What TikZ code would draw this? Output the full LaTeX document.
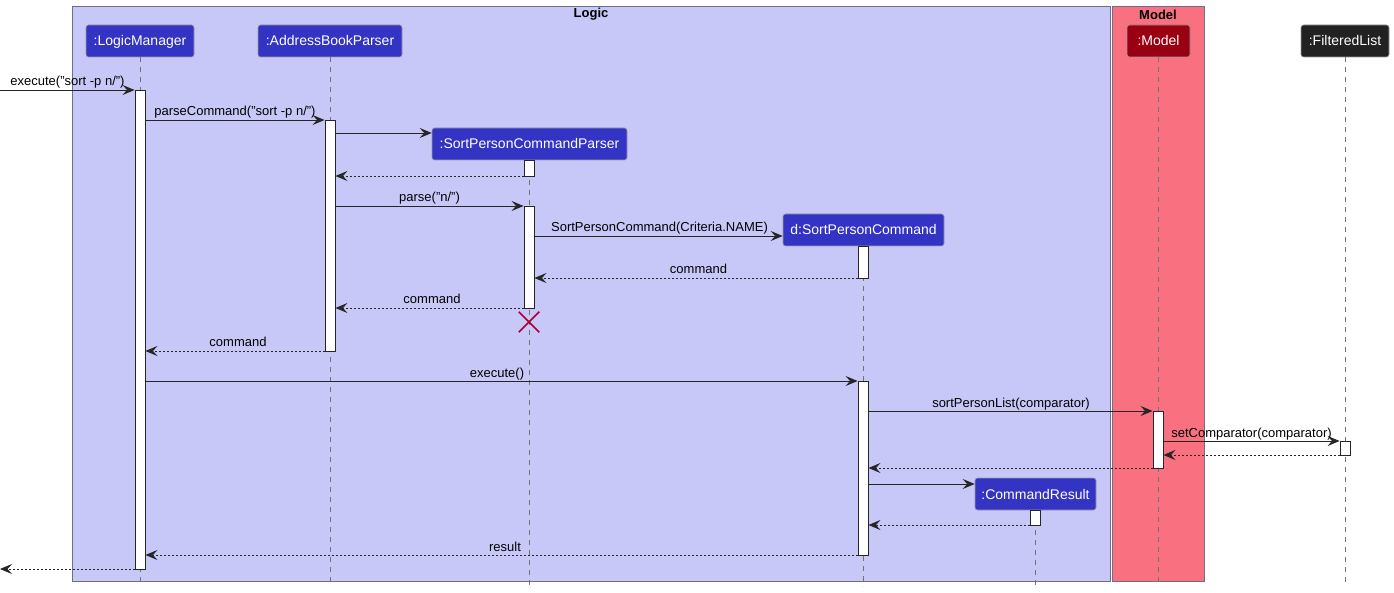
\documentclass[tikz,border=0pt]{standalone}
\usepackage{fontspec}
\setmainfont{Liberation Sans}
\usetikzlibrary{arrows.meta,calc,shapes.misc}
\definecolor{logicbg}{RGB}{200,200,248}
\definecolor{modelbg}{RGB}{249,112,129}
\definecolor{partblue}{RGB}{51,51,196}
\definecolor{partred}{RGB}{153,0,17}
\definecolor{partblack}{RGB}{34,34,34}
\definecolor{framegray}{RGB}{110,110,135}
\definecolor{destroyred}{RGB}{168,0,54}
\tikzset{
  grp/.style={draw=framegray, line width=0.9pt, inner sep=0pt},
  grptitle/.style={font=\fontsize{13}{15}\selectfont\bfseries, inner sep=0pt},
  part/.style={rounded corners=2.5pt, draw=black!40, line width=0.6pt, fill=partblue, text=white,
    font=\fontsize{14}{16}\selectfont, minimum height=32pt, inner sep=0pt, text height=10pt, text depth=0pt},
  act/.style={draw=black!85, fill=white, line width=0.9pt, minimum width=10pt, inner sep=0pt},
  lifeline/.style={draw=black!55, dash pattern=on 5pt off 5pt, line width=0.8pt},
  msg/.style={draw=black!85, line width=0.9pt, -{Stealth[length=12pt,width=10pt,inset=4.5pt]}},
  ret/.style={msg, dash pattern=on 2pt off 2pt},
  lbl/.style={font=\fontsize{13}{15}\selectfont, anchor=base, inner sep=0pt},
}
\begin{document}
\begin{tikzpicture}[x=1pt,y=-1pt]
\useasboundingbox (0,0) rectangle (1394,593);
% groups
\node[grp, fill=logicbg, minimum width=1038pt, minimum height=575pt] (logic) at (591,293.5) {};
\node[grp, fill=modelbg, minimum width=92pt, minimum height=575pt] (model) at (1158,293.5) {};
\node[grptitle] (logict) at (591,14.5) {Logic};
\node[grptitle] (modelt) at (1158,14.5) {Model};
% participants
\node[part, minimum width=108pt] (lm) at (140,41) {:LogicManager};
\node[part, minimum width=144pt] (ab) at (330,41) {:AddressBookParser};
\node[part, minimum width=195pt] (sp) at (529.5,144) {:SortPersonCommandParser};
\node[part, minimum width=161pt] (dc) at (863.5,230) {d:SortPersonCommand};
\node[part, minimum width=121pt] (cr) at (1035.5,494) {:CommandResult};
\node[part, minimum width=63pt, fill=partred] (md) at (1158.5,41) {:Model};
\node[part, minimum width=88pt, fill=partblack] (fl) at (1345,41) {:FilteredList};
% lifelines
\coordinate (lmE) at (140,586);
\coordinate (abE) at (330,586);
\coordinate (spE) at (529,586);
\coordinate (dcE) at (863,586);
\coordinate (crE) at (1035,586);
\coordinate (mdE) at (1158,586);
\coordinate (flE) at (1345,586);
\draw[lifeline] (lm.south) -- (lmE);
\draw[lifeline] (ab.south) -- (abE);
\draw[lifeline] (529,160) -- (spE);
\draw[lifeline] (863,246) -- (dcE);
\draw[lifeline] (1035,510) -- (crE);
\draw[lifeline] (1158,57) -- (mdE);
\draw[lifeline] (fl.south) -- (flE);
% activations
\node[act, minimum height=479pt] (lmA) at (140,329.5) {};
\node[act, minimum height=231pt] (abA) at (330,235.5) {};
\node[act, minimum height=16pt] (spA1) at (529,168) {};
\node[act, minimum height=102pt] (spA2) at (529,257) {};
\node[act, minimum height=32pt] (dcA1) at (863,262) {};
\node[act, minimum height=174pt] (dcA2) at (863,468) {};
\node[act, minimum height=57pt] (mdA) at (1158,439.5) {};
\node[act, minimum height=14pt] (flA) at (1345,448) {};
\node[act, minimum height=15pt] (crA) at (1035,517.5) {};
% destroy
\node[draw=destroyred, cross out, line width=1.5pt, minimum size=19pt, inner sep=0pt] (xx) at (529,322) {};
% free ends
\coordinate (inL) at (0,90);
\coordinate (outL) at (0,569);
% messages
\draw[msg] (inL) -- (lmA.west |- inL);
\node[lbl] at (67.5,86) {execute("sort -p n/")};
\draw[msg] (lmA.east |- 0,120) -- (abA.west |- 0,120);
\node[lbl] at (235,116) {parseCommand("sort -p n/")};
\draw[msg] (abA.east |- 0,133) -- (sp.west |- 0,133);
\draw[ret] (spA1.west |- 0,176) -- (abA.east |- 0,176);
\draw[msg] (abA.east |- 0,206) -- (spA2.west |- 0,206);
\node[lbl] at (429.5,202) {parse("n/")};
\draw[msg] (spA2.east |- 0,236) -- (dc.west |- 0,236);
\node[lbl] at (659.5,232) {SortPersonCommand(Criteria.NAME)};
\draw[ret] (dcA1.west |- 0,278) -- (spA2.east |- 0,278);
\node[lbl] at (698.5,274) {command};
\draw[ret] (spA2.west |- 0,308) -- (abA.east |- 0,308);
\node[lbl] at (432,304) {command};
\draw[ret] (abA.west |- 0,351) -- (lmA.east |- 0,351);
\node[lbl] at (238,347) {command};
\draw[msg] (lmA.east |- 0,381) -- (dcA2.west |- 0,381);
\node[lbl] at (497,377) {execute()};
\draw[msg] (dcA2.east |- 0,411) -- (mdA.west |- 0,411);
\node[lbl] at (1011,407) {sortPersonList(comparator)};
\draw[msg] (mdA.east |- 0,441) -- (flA.west |- 0,441);
\node[lbl] at (1251.5,437) {setComparator(comparator)};
\draw[ret] (flA.west |- 0,455) -- (mdA.east |- 0,455);
\draw[ret] (mdA.west |- 0,468) -- (dcA2.east |- 0,468);
\draw[msg] (dcA2.east |- 0,484) -- (cr.west |- 0,484);
\draw[ret] (crA.west |- 0,525) -- (dcA2.east |- 0,525);
\draw[ret] (dcA2.west |- 0,555) -- (lmA.east |- 0,555);
\node[lbl] at (505,551) {result};
\draw[ret] (lmA.west |- outL) -- (outL);
\end{tikzpicture}
\end{document}
